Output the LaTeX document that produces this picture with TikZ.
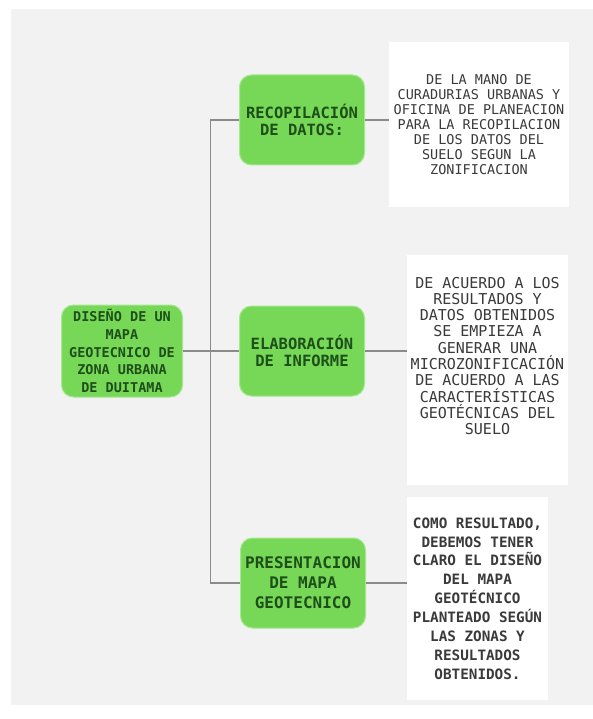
\documentclass[tikz,border=0pt]{standalone}
\usepackage{fontspec}
\setmonofont{DejaVu Sans Mono}
\usetikzlibrary{positioning}

\definecolor{panelgray}{HTML}{F2F2F2}
\definecolor{topicgreen}{HTML}{77D858}
\definecolor{edgegreen}{HTML}{A6E890}
\definecolor{textgreen}{HTML}{1E4F1A}
\definecolor{notegray}{HTML}{3A3A3A}
\definecolor{linkgray}{HTML}{8A8A8A}

\begin{document}
\begin{tikzpicture}
[x=1pt,y=-1pt,
 topic/.style={rounded corners=12pt,fill=topicgreen,draw=edgegreen,line width=1pt,
   text=textgreen,align=center,inner sep=0pt,minimum width=125pt,minimum height=90pt},
 note/.style={fill=white,text=notegray,align=center,inner sep=0pt},
 link/.style={draw=linkgray,line width=1.3pt}]

\useasboundingbox (0,0) rectangle (593,719);
\fill[panelgray] (11,9) rectangle (593,705);

\node (root) at (122,351) [topic,minimum width=121pt,minimum height=92pt,
  font=\fontsize{13.5}{17.7}\selectfont\ttfamily\bfseries]
  {DISEÑO DE UN\\MAPA\\GEOTECNICO DE\\ZONA URBANA\\DE DUITAMA};

\node (datos) at (302,120) [topic,font=\fontsize{15.5}{17}\selectfont\ttfamily\bfseries]
  {RECOPILACIÓN\\DE DATOS:};
\node (informe) at (302,351) [topic,font=\fontsize{15.5}{17}\selectfont\ttfamily\bfseries]
  {ELABORACIÓN\\DE INFORME};
\node (mapa) at (303,583) [topic,font=\fontsize{16}{20}\selectfont\ttfamily\bfseries]
  {PRESENTACION\\DE MAPA\\GEOTECNICO};

\node (nota1) at (479,124.5) [note,minimum width=180pt,minimum height=165pt,
  font=\fontsize{13.5}{15}\selectfont\ttfamily]
  {DE LA MANO DE\\CURADURIAS URBANAS Y\\OFICINA DE PLANEACION\\PARA LA RECOPILACION\\DE LOS DATOS DEL\\SUELO SEGUN LA\\ZONIFICACION};
\node (nota2) at (487.5,370) [note,minimum width=161pt,minimum height=230pt,
  font=\fontsize{15}{16.3}\selectfont\ttfamily]
  {DE ACUERDO A LOS\\RESULTADOS Y\\DATOS OBTENIDOS\\SE EMPIEZA A\\GENERAR UNA\\MICROZONIFICACIÓN\\DE ACUERDO A LAS\\CARACTERÍSTICAS\\GEOTÉCNICAS DEL\\SUELO\\[12pt]\mbox{}};
\node (nota3) at (477.5,598.5) [note,minimum width=141pt,minimum height=203pt,
  font=\fontsize{14.3}{18.9}\selectfont\ttfamily\bfseries]
  {COMO RESULTADO,\\DEBEMOS TENER\\CLARO EL DISEÑO\\DEL MAPA\\GEOTÉCNICO\\PLANTEADO SEGÚN\\LAS ZONAS Y\\RESULTADOS\\OBTENIDOS.};

\coordinate (spine) at (210.5,351);

\draw[link] (root) -- (informe);
\draw[link] (datos.west) -| (spine) |- (mapa.west);
\draw[link] (datos.east) -- (datos.east -| nota1.west);
\draw[link] (informe.east) -- (informe.east -| nota2.west);
\draw[link] (mapa.east) -- (mapa.east -| nota3.west);
\end{tikzpicture}
\end{document}
